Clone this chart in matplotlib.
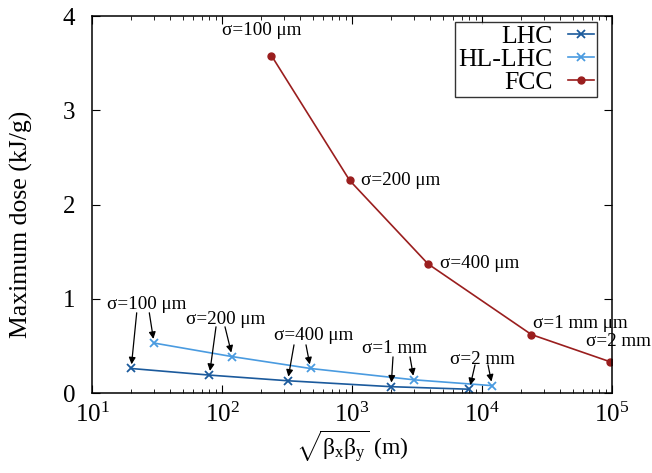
import matplotlib
matplotlib.use("Agg")
import matplotlib.pyplot as plt
import numpy as np

plt.rcParams['font.family'] = ['Liberation Serif', 'DejaVu Serif']
plt.rcParams['mathtext.fontset'] = 'custom'
plt.rcParams['mathtext.rm'] = 'Liberation Serif'
plt.rcParams['mathtext.it'] = 'Liberation Serif'
plt.rcParams['mathtext.bf'] = 'Liberation Serif:bold'

# ---- data ----
lhc_beta = [20, 80, 320, 2000, 8000]
lhc_dose = [0.26, 0.19, 0.13, 0.067, 0.04]
hl_beta = [30, 120, 480, 3000, 12000]
hl_dose = [0.53, 0.386, 0.26, 0.14, 0.078]
fcc_beta = [240, 960, 3840, 24000, 96000]
fcc_dose = [3.58, 2.255, 1.37, 0.62, 0.333]
sigma_labels = ['σ=100 μm', 'σ=200 μm', 'σ=400 μm', 'σ=1 mm', 'σ=2 mm']
fcc_labels = ['σ=100 μm', 'σ=200 μm', 'σ=400 μm', 'σ=1 mm μm', 'σ=2 mm']

c_lhc = '#1b5a9c'
c_hl = '#4a9be0'
c_fcc = '#9a1e1e'

fig = plt.figure(figsize=(6.52, 4.73), dpi=100)
ax = fig.add_axes([92/652, 1-393/473, 520/652, 377/473])

ax.plot(lhc_beta, lhc_dose, '-x', color=c_lhc, lw=1.2, ms=6, mew=1.3, label='LHC')
ax.plot(hl_beta, hl_dose, '-x', color=c_hl, lw=1.2, ms=6, mew=1.3, label='HL-LHC')
ax.plot(fcc_beta, fcc_dose, '-o', color=c_fcc, lw=1.2, ms=5, label='FCC')

ax.set_xscale('log')
ax.set_xlim(10, 1e5)
ax.set_ylim(0, 4)
ax.set_yticks([0, 1, 2, 3, 4])

def px2data(px, py):
    return 10 ** (1 + (px - 92) / 130.0), (393 - py) / 94.0

# annotations for LHC / HL-LHC
text_px = [(107, 305), (186, 320), (274, 336), (362, 349), (450, 360)]
arrow_start_px = [((136.7, 313), (149.3, 313)),
                  ((216, 327), (225, 327)),
                  ((294, 345), (306, 345)),
                  ((393, 357), (410, 357)),
                  ((475, 365), (488, 365))]
for i, lab in enumerate(sigma_labels):
    tx, ty = px2data(*text_px[i])
    ax.text(tx, ty, lab, fontsize=13.8, ha='left', va='center')
    for (sx, sy), (bx, by) in zip(arrow_start_px[i],
                                  [(lhc_beta[i], lhc_dose[i]), (hl_beta[i], hl_dose[i])]):
        s = px2data(sx, sy)
        ax.annotate('', xy=(bx, by), xytext=s,
                    arrowprops=dict(arrowstyle='-|>', color='black', lw=0.9,
                                    shrinkA=0, shrinkB=3, mutation_scale=10))

# FCC labels
fcc_off = [(-10, 25, 'center'), (11, 0, 'left'), (12, 0, 'left'), (2, 11, 'left'), (-24, 20, 'left')]
for i, lab in enumerate(fcc_labels):
    dx, dy, ha = fcc_off[i]
    ax.annotate(lab, xy=(fcc_beta[i], fcc_dose[i]), xytext=(dx, dy),
                textcoords='offset pixels', fontsize=13.8, ha=ha, va='center')

ax.tick_params(which='both', direction='in', top=True, right=True, labelsize=18)
ax.tick_params(which='major', length=6)
ax.tick_params(axis='x', which='major', pad=7)
ax.tick_params(axis='y', which='major', pad=12)
ax.tick_params(which='minor', length=3)
for s in ax.spines.values():
    s.set_linewidth(1.1)

ax.set_ylabel('Maximum dose (kJ/g)', fontsize=18.5)
ax.yaxis.set_label_coords(-0.113, 0.446)
ax.set_xlabel(r'$\sqrt{\mathrm{\beta_x\beta_y}}$ (m)', fontsize=17, labelpad=1)

leg = ax.legend(loc='upper right', fontsize=18.5, markerfirst=False, frameon=True,
                fancybox=False, edgecolor='black', handlelength=1.0,
                borderpad=0.12, labelspacing=0.0, handletextpad=0.6,
                borderaxespad=0, bbox_to_anchor=(0.971, 0.984))
leg.get_frame().set_linewidth(1.0)
for t in leg.get_texts():
    t.set_ha('right')
leg._legend_box.align = 'right'

fig.savefig('out.png', dpi=100)
